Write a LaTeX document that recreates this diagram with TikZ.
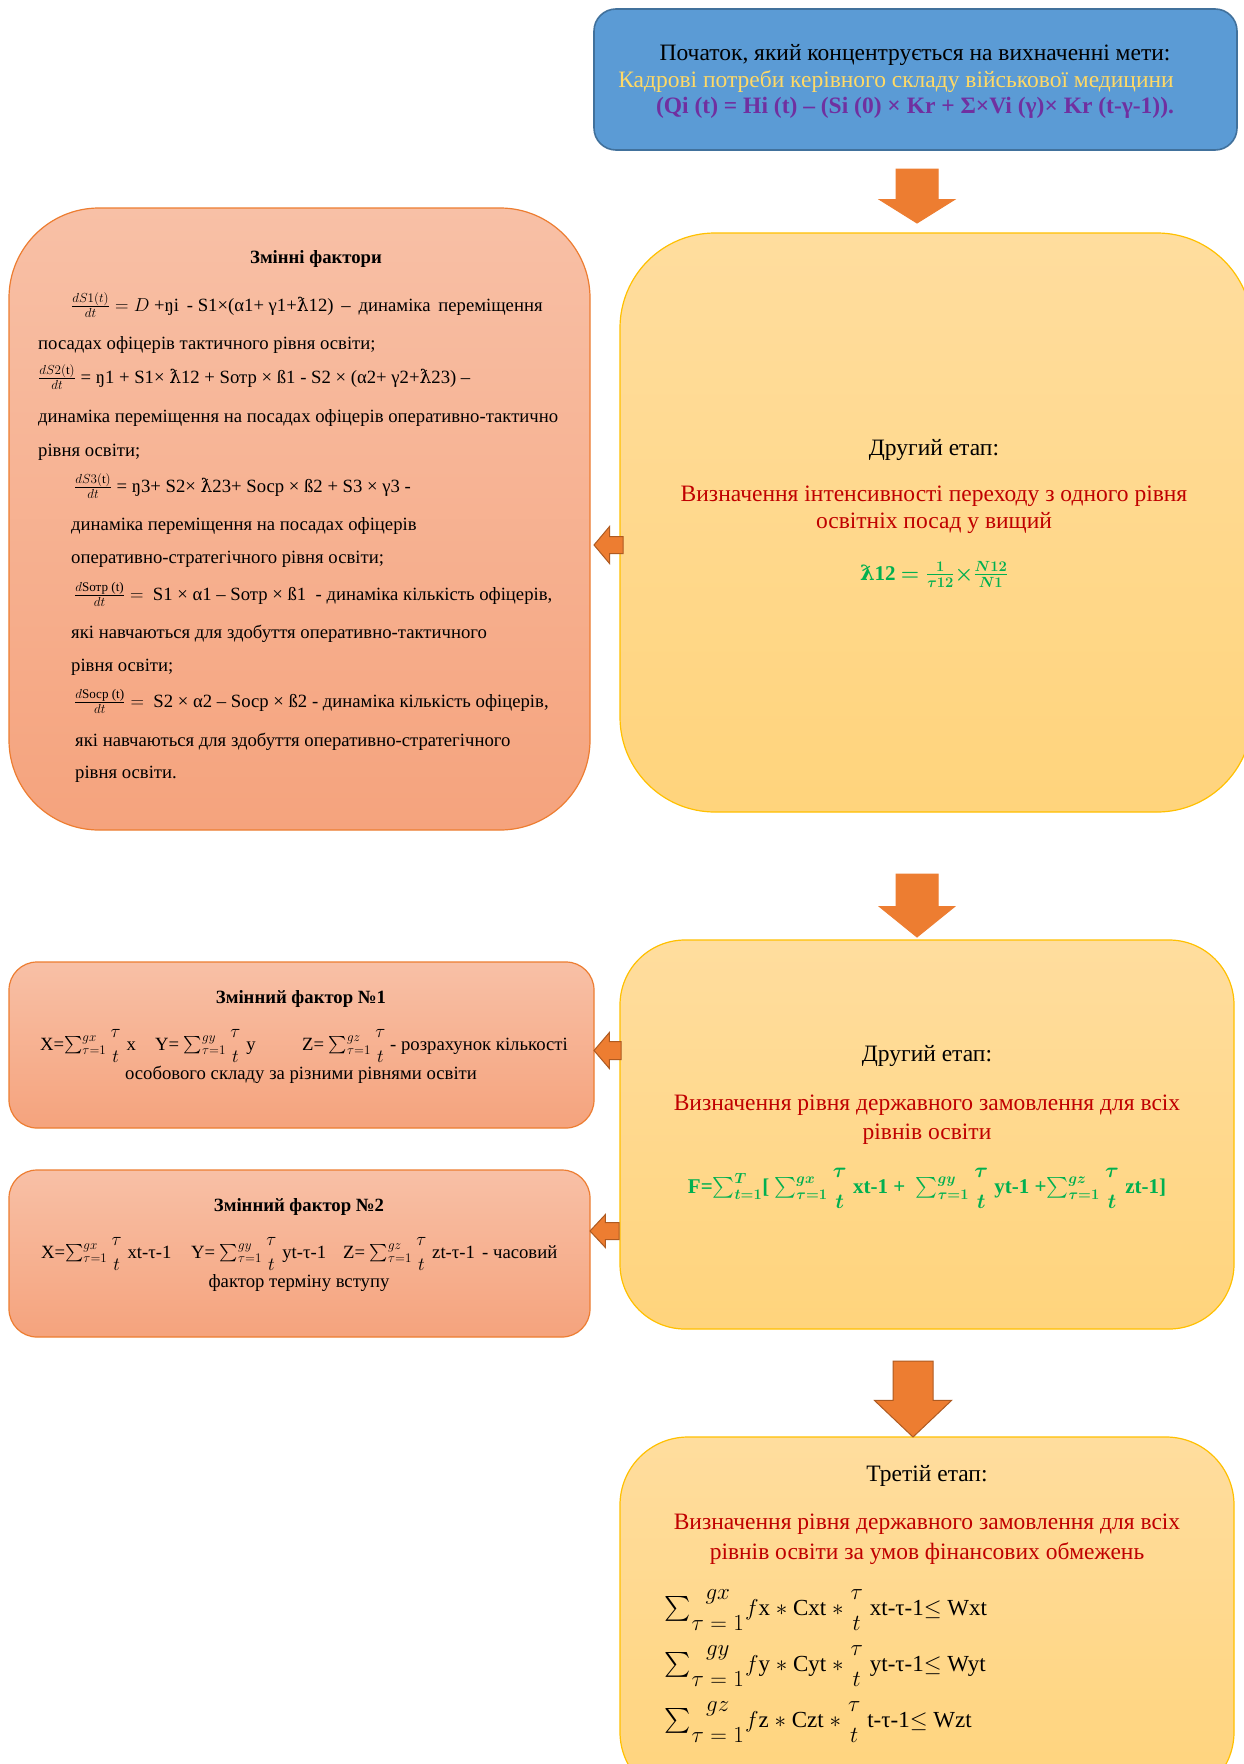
\RequirePackage{fix-cm}
\documentclass[tikz,border=0pt]{standalone}
\usepackage{amsmath}
\usepackage{fontspec}
\setmainfont{Liberation Serif}
\newfontfamily\lamfont{DejaVu Serif}
\usetikzlibrary{shapes.arrows}
\definecolor{goalblue}{HTML}{5B9BD5}
\definecolor{goalline}{HTML}{41719C}
\definecolor{goldtxt}{HTML}{FFD966}
\definecolor{purp}{HTML}{7030A0}
\definecolor{stagered}{HTML}{C00000}
\definecolor{formgreen}{HTML}{00B050}
\definecolor{salmtop}{HTML}{F8C0A6}
\definecolor{salmbot}{HTML}{F5A37D}
\definecolor{salmline}{HTML}{ED7D31}
\definecolor{yeltop}{HTML}{FFDD9E}
\definecolor{yelbot}{HTML}{FFD47C}
\definecolor{yelline}{HTML}{FFC000}
\definecolor{arrfill}{HTML}{ED7D31}
\definecolor{arrline}{HTML}{AE5A21}
\newcommand{\lstr}{{\lamfont ƛ}}
\newcommand{\bigtxt}{\fontsize{23.5}{27}\selectfont}
\newcommand{\smtxt}{\fontsize{18.7}{22}\selectfont}
\newcommand{\formtxt}{\fontsize{23}{27}\selectfont}
\newcommand{\tovert}[1][0]{\genfrac{}{}{0pt}{#1}{\tau}{t}}
\newcommand{\sumlim}[1]{\sum\!\genfrac{}{}{0pt}{0}{#1}{\tau=1}}

\begin{document}
\begin{tikzpicture}[x=1pt,y=-1pt,
    box/.style={draw,line width=1.2pt,inner sep=0pt,outer sep=0pt},
    salmon/.style={box,draw=salmline,top color=salmtop,bottom color=salmbot},
    gold/.style={box,draw=yelline,top color=yeltop,bottom color=yelbot},
    lft/.style={anchor=base west,inner sep=0pt,font=\smtxt},
    ctr/.style={anchor=base,inner sep=0pt,font=\bigtxt},
    blockarr/.style={single arrow,fill=arrfill,draw=#1,line width=1pt,
      inner xsep=0pt,outer sep=0pt,anchor=tip}]
  \fill[white](0,0)rectangle(1243,1764);
  \useasboundingbox(0,0)rectangle(1243,1764);
  % boxes
  \node[box,draw=goalline,fill=goalblue,rounded corners=22pt,line width=1.6pt,
    minimum width=643pt,minimum height=141pt](goal)at(915.5,79.5){};
  \node[gold,rounded corners=95pt,minimum width=632pt,minimum height=579pt]
    (stage1)at(936,522.5){};
  \node[salmon,rounded corners=90pt,minimum width=581pt,minimum height=622pt]
    (vars)at(299.5,519){};
  \node[salmon,rounded corners=28pt,minimum width=585pt,minimum height=166pt]
    (fac1)at(301.5,1045){};
  \node[salmon,rounded corners=28pt,minimum width=581pt,minimum height=167pt]
    (fac2)at(299.5,1253.5){};
  \node[gold,rounded corners=65pt,minimum width=614pt,minimum height=389pt]
    (stage2)at(927,1134.5){};
  \node[gold,rounded corners=68pt,minimum width=614pt,minimum height=363pt]
    (stage3)at(927,1618.5){};
  % arrows
  \node[blockarr=arrfill,rotate=-90,inner ysep=20.5pt,single arrow head extend=16.5pt,
    minimum height=54pt,single arrow tip angle=116](ar1)at(917,223){};
  \node[blockarr=arrfill,rotate=-90,inner ysep=20.5pt,single arrow head extend=16.5pt,
    minimum height=63pt,single arrow tip angle=102](ar2)at(917,937){};
  \node[blockarr=arrline,rotate=-90,inner ysep=19.5pt,single arrow head extend=18.5pt,
    minimum height=76pt,single arrow tip angle=93](ar3)at(913,1437){};
  \node[blockarr=arrline,rotate=180,inner ysep=8pt,single arrow head extend=10pt,
    minimum height=29pt,single arrow tip angle=100](al1)at(594,545){};
  \node[blockarr=arrline,rotate=180,inner ysep=8.5pt,single arrow head extend=9pt,
    minimum height=27pt,single arrow tip angle=99](al2)at(594,1050.5){};
  \node[blockarr=arrline,rotate=180,inner ysep=8pt,single arrow head extend=8pt,
    minimum height=29pt,single arrow tip angle=94](al3)at(590,1231){};
  % goal
  \node[ctr](g1)at(915,60){Початок, який концентрується на вихначенні мети:};
  \node[ctr,text=goldtxt](g2)at(896,87){Кадрові потреби керівного складу військової медицини};
  \node[ctr,text=purp,font=\bigtxt\bfseries](g3)at(915,113)
    {(Qi (t) = Hi (t) – (Si (0) × Kr + Σ×Vi (γ)× Kr (t-γ-1)).};
  % variable factors
  \node[ctr,font=\smtxt\bfseries](vt)at(316,263){Змінні фактори};
  \node[lft](v1)at(71,311){$\frac{dS1(t)}{dt}=D$ +ŋi\, - S1×(α1+ γ1+\lstr12)\, –\, динаміка\, переміщення};
  \node[lft](v2)at(38,349){посадах офіцерів тактичного рівня освіти;};
  \node[lft](v3)at(38,383){$\frac{dS2(\mathrm{t})}{dt}$ = ŋ1 + S1× \lstr12 + Sотр × ß1 - S2 × (α2+ γ2+\lstr23) –};
  \node[lft](v4)at(38,422){динаміка переміщення на посадах офіцерів оперативно-тактично};
  \node[lft](v5)at(38,456){рівня освіти;};
  \node[lft](v6)at(74,492){$\frac{dS3(\mathrm{t})}{dt}$ = ŋ3+ S2× \lstr23+ Sоср × ß2 + S3 × γ3 -};
  \node[lft](v7)at(71,530){динаміка переміщення на посадах офіцерів};
  \node[lft](v8)at(71,563){оперативно-стратегічного рівня освіти;};
  \node[lft](v9)at(74,600){$\frac{d\text{Sотр (t)}}{dt} =$ \ S1 × α1 – Sотр × ß1\ \ - динаміка кількість офіцерів,};
  \node[lft](v10)at(71,638){які навчаються для здобуття оперативно-тактичного};
  \node[lft](v11)at(71,671){рівня освіти;};
  \node[lft](v12)at(74,707){$\frac{d\text{Sоср (t)}}{dt} =$ \ S2 × α2 – Sоср × ß2 - динаміка кількість офіцерів,};
  \node[lft](v13)at(75,746){які навчаються для здобуття оперативно-стратегічного};
  \node[lft](v14)at(75,778){рівня освіти.};
  % second stage
  \node[ctr](s1a)at(934,455){Другий етап:};
  \node[ctr,text=stagered,align=center](s1b)at(934,528)
    {Визначення інтенсивності переходу з одного рівня\\освітніх посад у вищий};
  \node[ctr,text=formgreen,font=\fontsize{21}{25}\selectfont\bfseries\boldmath](s1d)at(934,580)
    {{\lamfont\bfseries ƛ}12 $=\frac{1}{\tau 12}{\times}\frac{N12}{N1}$};
  % factor 1
  \node[ctr,font=\smtxt\bfseries](f1t)at(301,1003){Змінний фактор №1};
  \node[lft](f1x)at(40,1050){X=$\sum_{\tau=1}^{gx}\tovert$ x};
  \node[lft](f1y)at(155,1050){Y= $\sum_{\tau=1}^{gy}\tovert$ y};
  \node[lft](f1z)at(302,1050){Z= $\sum_{\tau=1}^{gz}\tovert$};
  \node[lft](f1r)at(390,1050){- розрахунок кількості};
  \node[ctr,font=\smtxt](f1b)at(301,1079){особового складу за різними рівнями освіти};
  % factor 2
  \node[ctr,font=\smtxt\bfseries](f2t)at(299,1211){Змінний фактор №2};
  \node[lft](f2x)at(41,1258){X=$\sum_{\tau=1}^{gx}\tovert$ xt-τ-1};
  \node[lft](f2y)at(191,1258){Y= $\sum_{\tau=1}^{gy}\tovert$ yt-τ-1};
  \node[lft](f2z)at(343,1258){Z= $\sum_{\tau=1}^{gz}\tovert$ zt-τ-1};
  \node[lft](f2r)at(482,1258){- часовий};
  \node[ctr,font=\smtxt](f2b)at(299,1287){фактор терміну вступу};
  % second stage, order
  \node[ctr](s2a)at(927,1061){Другий етап:};
  \node[ctr,text=stagered](s2b)at(927,1110){Визначення рівня державного замовлення для всіх};
  \node[ctr,text=stagered](s2c)at(927,1139){рівнів освіти};
  \node[ctr,text=formgreen,font=\fontsize{21}{25}\selectfont\bfseries\boldmath](s2d)at(927,1193)
    {F=$\sum_{t=1}^{T}$[ $\sum_{\tau=1}^{gx}\tovert$ xt-1 +\ \ $\sum_{\tau=1}^{gy}\tovert$ yt-1 +$\sum_{\tau=1}^{gz}\tovert$ zt-1]};
  % third stage
  \node[ctr](s3a)at(927,1481){Третій етап:};
  \node[ctr,text=stagered](s3b)at(927,1529){Визначення рівня державного замовлення для всіх};
  \node[ctr,text=stagered](s3c)at(927,1559){рівнів освіти за умов фінансових обмежень};
  \node[lft,font=\formtxt](s3x)at(664,1615)
    {$\sumlim{gx}$$f$x $*$ Cxt $*$ $\tovert$ xt-τ-1$\leq$ Wxt};
  \node[lft,font=\formtxt](s3y)at(664,1671)
    {$\sumlim{gy}$$f$y $*$ Cyt $*$ $\tovert$ yt-τ-1$\leq$ Wyt};
  \node[lft,font=\formtxt](s3z)at(664,1727)
    {$\sumlim{gz}$$f$z $*$ Czt $*$ $\tovert$ t-τ-1$\leq$ Wzt};
\end{tikzpicture}
\end{document}
